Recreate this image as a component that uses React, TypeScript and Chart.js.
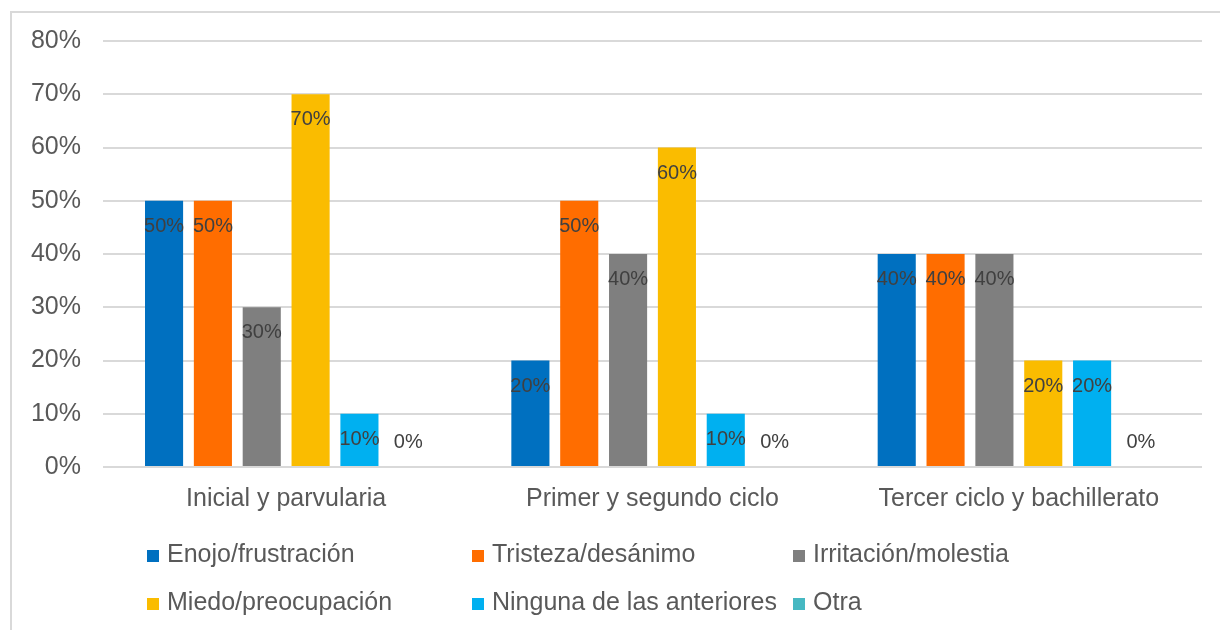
import React, { useEffect, useRef } from "react";
import { Chart, registerables } from "chart.js";

Chart.register(...registerables);

const categories = ["Inicial y parvularia", "Primer y segundo ciclo", "Tercer ciclo y bachillerato"];
const seriesNames = [
  "Enojo/frustración",
  "Tristeza/desánimo",
  "Irritación/molestia",
  "Miedo/preocupación",
  "Ninguna de las anteriores",
  "Otra",
];
const enojo = [50, 20, 40];
const tristeza = [50, 50, 40];
const irritacion = [30, 40, 40];
const miedo = [70, 60, 20];
const ninguna = [10, 10, 20];
const otra = [0, 0, 0];
const seriesColors = ["#0070C0", "#FF6D00", "#7F7F7F", "#FABC00", "#00B0F0", "#46B8C2"];
const yMax = 80;
const yStep = 10;

const FONT = "'Liberation Sans', Arial, sans-serif";

const labelPlugin = {
  id: "barValueLabels",
  afterDatasetsDraw(chart: any) {
    const ctx = chart.ctx;
    ctx.save();
    ctx.font = `20px ${FONT}`;
    ctx.fillStyle = "#404040";
    ctx.textAlign = "center";
    ctx.textBaseline = "middle";
    chart.data.datasets.forEach((ds: any, di: number) => {
      const meta = chart.getDatasetMeta(di);
      meta.data.forEach((el: any, i: number) => {
        const v = ds.data[i];
        const y = v > 0 ? el.y + 25.5 : el.y - 24.5;
        ctx.fillText(`${v}%`, el.x, y);
      });
    });
    ctx.restore();
  },
};

const gridLegendPlugin = {
  id: "gridLegend",
  afterDraw(chart: any) {
    const ctx = chart.ctx;
    const colX = [135, 460, 781];
    const rowY = [542, 590];
    ctx.save();
    ctx.font = `25px ${FONT}`;
    ctx.textAlign = "left";
    ctx.textBaseline = "middle";
    chart.data.datasets.forEach((ds: any, i: number) => {
      const x = colX[i % 3];
      const y = rowY[Math.floor(i / 3)];
      ctx.fillStyle = ds.backgroundColor;
      ctx.fillRect(x, y - 5, 12, 12);
      ctx.fillStyle = "#595959";
      ctx.fillText(ds.label, x + 20, y);
    });
    ctx.restore();
  },
};

export default function App() {
  const ref = useRef<HTMLCanvasElement | null>(null);
  useEffect(() => {
    if (!ref.current) return;
    const values = [enojo, tristeza, irritacion, miedo, ninguna, otra];
    const chart = new Chart(ref.current, {
      type: "bar",
      data: {
        labels: categories,
        datasets: seriesNames.map((name, i) => ({
          label: name,
          data: values[i],
          backgroundColor: seriesColors[i],
          borderWidth: 0,
          categoryPercentage: 0.8,
          barPercentage: 0.78,
        })),
      },
      options: {
        animation: false,
        responsive: false,
        devicePixelRatio: 1,
        layout: { padding: { top: 28, right: 18, bottom: 0, left: 0 } },
        plugins: {
          legend: { display: false },
          tooltip: { enabled: false },
        },
        scales: {
          x: {
            grid: { display: false, drawTicks: false },
            border: { display: false },
            ticks: {
              color: "#595959",
              font: { size: 25, family: FONT },
              padding: 17,
              maxRotation: 0,
            },
            afterFit: (s: any) => {
              s.height = 163;
            },
          },
          y: {
            min: 0,
            max: yMax,
            grid: { color: "#d9d9d9", lineWidth: 2, drawTicks: false },
            border: { display: false },
            ticks: {
              stepSize: yStep,
              color: "#595959",
              font: { size: 25, family: FONT },
              padding: 22,
              callback: (v: any) => `${v}%`,
            },
            afterFit: (s: any) => {
              s.width = 91;
              s.paddingTop = 0;
              s.paddingBottom = 0;
            },
          },
        },
      },
      plugins: [labelPlugin, gridLegendPlugin],
    });
    return () => chart.destroy();
  }, []);

  return (
    <div
      style={{
        position: "fixed",
        left: 10,
        top: 11,
        width: 1210,
        height: 619,
        borderLeft: "2px solid #d9d9d9",
        borderTop: "2px solid #d9d9d9",
        boxSizing: "border-box",
        background: "#fff",
      }}
    >
      <canvas ref={ref} width={1208} height={617} style={{ display: "block", width: 1208, height: 617 }} />
    </div>
  );
}
